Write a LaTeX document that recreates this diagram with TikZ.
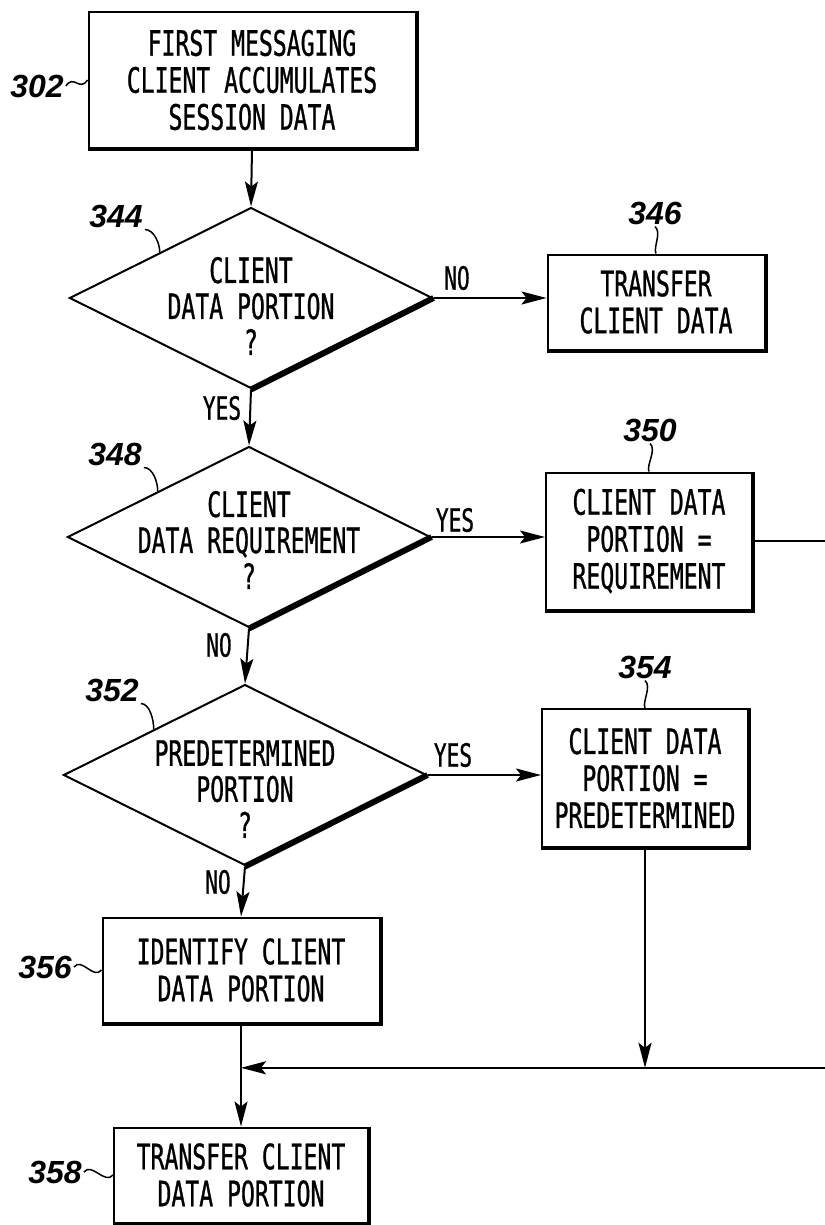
\documentclass[tikz,border=0pt]{standalone}
\usepackage{fontspec}
\newfontfamily\leroy[FakeStretch=0.66,FakeBold=0.8]{DejaVu Sans Mono}
\newfontfamily\reffont{Liberation Sans}
\usetikzlibrary{positioning}
\usetikzlibrary{calc}
\usetikzlibrary{shapes.geometric}
\usetikzlibrary{arrows.meta}
\tikzset{>={Stealth[length=25pt,width=13pt,inset=5pt]}}
\tikzset{box/.style={draw, rectangle, line width=2pt, inner sep=0pt, align=center, font=\leroy\fontsize{35}{37}\selectfont}}
\tikzset{decision/.style={draw, diamond, line width=2pt, inner sep=0pt, minimum width=363pt, minimum height=181pt}}
\tikzset{question/.style={align=center, font=\leroy\fontsize{35}{36}\selectfont}}
\tikzset{answer/.style={inner sep=1pt, font=\leroy\fontsize{32}{36}\selectfont}}
\tikzset{ref/.style={inner sep=2pt, font=\reffont\bfseries\itshape\fontsize{32}{36}\selectfont}}
\tikzset{flow/.style={line width=2pt}}
\tikzset{lead/.style={line width=1.5pt}}
\tikzset{heavy/.style={line width=4pt}}
\tikzset{heavier/.style={line width=6pt}}

\begin{document}
\begin{tikzpicture}[x=1pt,y=-1pt]

    \useasboundingbox (0,0) rectangle (824,1225);

    % Boxes
    \node [box, minimum width=327pt, minimum height=136pt] (b302) at (252,80) {FIRST MESSAGING\\CLIENT ACCUMULATES\\SESSION DATA};
    \node [box, minimum width=217pt, minimum height=95pt] (b346) at (656,302) {TRANSFER\\CLIENT DATA};
    \node [box, minimum width=206pt, minimum height=137pt] (b350) at (649,541) {CLIENT DATA\\PORTION =\\REQUIREMENT};
    \node [box, minimum width=206pt, minimum height=138pt] (b354) at (645,778) {CLIENT DATA\\PORTION =\\PREDETERMINED};
    \node [box, minimum width=277pt, minimum height=105pt] (b356) at (241,970) {IDENTIFY CLIENT\\DATA PORTION};
    \node [box, minimum width=254pt, minimum height=95pt] (b358) at (241,1175) {TRANSFER CLIENT\\DATA PORTION};

    % Decisions
    \node [decision] (d344) at (251,298) {};
    \node [decision] (d348) at (249,537) {};
    \node [decision] (d352) at (245,775) {};
    \node [question] (q344) at ($(d344)+(0,8)$) {CLIENT\\DATA PORTION\\?};
    \node [question] (q348) at ($(d348)+(0,3)$) {CLIENT\\DATA REQUIREMENT\\?};
    \node [question] (q352) at ($(d352)+(0,14)$) {PREDETERMINED\\PORTION\\?};

    % Shadow edges
    \foreach \b in {b302,b346,b350,b354,b356,b358}
        \draw [heavy] (\b.north east) -- (\b.south east) -- (\b.south west);
    \foreach \d in {d344,d348,d352}
        \draw [heavier] (\d.south) -- (\d.east);

    % Reference numerals
    \node [ref] (n302) at (37,86) {302};
    \node [ref] (n344) at (116,216) {344};
    \node [ref] (n346) at (655,213) {346};
    \node [ref] (n348) at (115,454) {348};
    \node [ref] (n350) at (650,430) {350};
    \node [ref] (n352) at (112,690) {352};
    \node [ref] (n354) at (645,667) {354};
    \node [ref] (n356) at (45,967) {356};
    \node [ref] (n358) at (55,1172) {358};

    \draw [lead] (n302.east) .. controls +(8,-12) and +(-8,12) .. (b302.west);
    \draw [lead] (n344.south east) .. controls +(9,0) and +(0,-9) .. (d344.north west);
    \draw [lead] (n346.south) .. controls +(7,6) and +(-3,-6) .. (b346.north);
    \draw [lead] (n348.south east) .. controls +(9,0) and +(0,-9) .. (d348.north west);
    \draw [lead] (n350.south) .. controls +(7,6) and +(-3,-6) .. (b350.north);
    \draw [lead] (n352.south east) .. controls +(9,0) and +(0,-9) .. (d352.north west);
    \draw [lead] (n354.south) .. controls +(7,6) and +(-3,-6) .. (b354.north);
    \draw [lead] (n356.east) .. controls +(8,-10) and +(-8,10) .. (b356.west);
    \draw [lead] (n358.east) .. controls +(8,-10) and +(-8,10) .. (b358.west);

    % Answers
    \node [answer] (no344) at (457,278) {NO};
    \node [answer] (yes344) at (222,408) {YES};
    \node [answer] (yes348) at (455,520) {YES};
    \node [answer] (no348) at (219,645) {NO};
    \node [answer] (yes352) at (453,755) {YES};
    \node [answer] (no352) at (218,882) {NO};

    % Arrows between nodes
    \draw [flow,->] (b302.south) -- (d344.north);
    \draw [flow,->] (d344.east) -- (d344.east -| b346.west);
    \draw [flow,->] (d344.south) -- (d348.north);
    \draw [flow,->] (d348.east) -- (d348.east -| b350.west);
    \draw [flow,->] (d348.south) -- (d352.north);
    \draw [flow,->] (d352.east) -- (d352.east -| b354.west);
    \draw [flow,->] (d352.south) -- (b356.north);
    \draw [flow,->] (b356.south) -- (b358.north);

    % Return line
    \coordinate (join) at ($(b356.south)!0.43!(b358.north)$);
    \coordinate (loop) at ($(b350.east)+(120,0)$);
    \draw [flow,->] (b350.east) -- (loop) |- (join);
    \draw [flow,->] (b354.south) -- (b354.south |- join);

\end{tikzpicture}
\end{document}
